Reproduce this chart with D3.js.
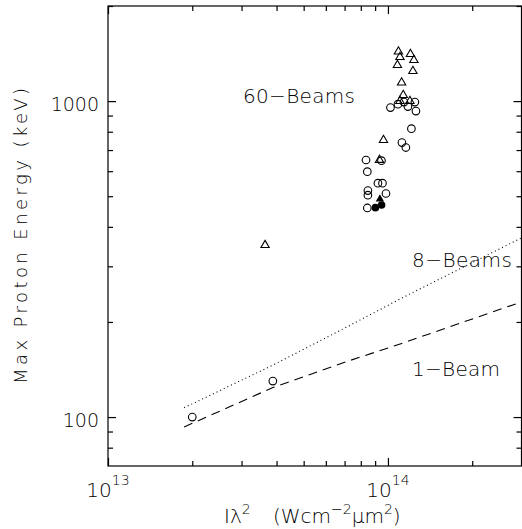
<!DOCTYPE html>
<html>
<head>
<meta charset="utf-8">
<script src="https://cdn.jsdelivr.net/npm/d3@7"></script>
<style>
body { margin: 0; background: #fff; }
text { font-family: "DejaVu Sans", sans-serif; font-weight: 200; fill: #000; }
</style>
</head>
<body>
<div id="chart"></div>
<script>
// intensity (W cm^-2 um^2) and max proton energy (keV)
var openTriangles = [
  [1.090e14, 1435], [1.104e14, 1378], [1.081e14, 1300], [1.203e14, 1409],
  [1.238e14, 1348], [1.228e14, 1244], [1.119e14, 1144], [1.134e14, 1045],
  [1.104e14, 1000], [1.198e14, 1000], [9.64e13, 753], [9.33e13, 651],
  [3.64e13, 350]
];
var openCircles = [
  [1.021e14, 954], [1.086e14, 978], [1.141e14, 993], [1.179e14, 961],
  [1.248e14, 993], [1.259e14, 930], [1.213e14, 818], [1.122e14, 739],
  [1.159e14, 713], [8.35e13, 651], [9.48e13, 648], [8.44e13, 598],
  [9.21e13, 550], [9.56e13, 550], [8.48e13, 521], [8.48e13, 504],
  [9.84e13, 510], [8.44e13, 459], [3.88e13, 130], [2.00e13, 100]
];
var filledCircles = [[9.02e13, 460], [9.49e13, 469]];
var filledTriangles = [[9.36e13, 490]];

var oneBeam = [[1.87e13, 93], [3.88e13, 124], [7.31e13, 151], [1.12e14, 171], [2.98e14, 231]];
var eightBeam = [[1.87e13, 107], [3.88e13, 146], [7.31e13, 195], [1.12e14, 238], [2.98e14, 368]];

var xMajor = [1e13, 1e14];
var xMinor = [2e13, 3e13, 4e13, 5e13, 6e13, 7e13, 8e13, 9e13, 2e14, 3e14];
var yMajor = [100, 1000];
var yMinor = [80, 90, 200, 300, 400, 500, 600, 700, 800, 900, 2000];

var width = 522, height = 529;
var plotL = 108, plotR = 521.5, plotT = 6, plotB = 466;

var x = d3.scaleLog().domain([1e13, 3e14]).range([plotL, plotR]);
var y = d3.scaleLog().domain([70, 2000]).range([plotB, plotT]);

var svg = d3.select("#chart").append("svg")
    .attr("width", width)
    .attr("height", height);

svg.append("rect")
    .attr("x", plotL).attr("y", plotT)
    .attr("width", plotR - plotL).attr("height", plotB - plotT)
    .attr("fill", "none").attr("stroke", "#000").attr("stroke-width", 1.2);

var noLabel = function (axis, vals, size) {
    return axis.tickValues(vals).tickSize(-size).tickSizeOuter(0).tickFormat("");
};

[[xMinor, 5], [xMajor, 8]].forEach(function (t) {
    svg.append("g").attr("transform", "translate(0," + plotB + ")").call(noLabel(d3.axisBottom(x), t[0], t[1]));
    svg.append("g").attr("transform", "translate(0," + plotT + ")").call(noLabel(d3.axisTop(x), t[0], t[1]));
});
[[yMinor, 5], [yMajor, 8]].forEach(function (t) {
    svg.append("g").attr("transform", "translate(" + plotL + ",0)").call(noLabel(d3.axisLeft(y), t[0], t[1]));
    svg.append("g").attr("transform", "translate(" + plotR + ",0)").call(noLabel(d3.axisRight(y), t[0], t[1]));
});
svg.selectAll(".domain").remove();
svg.selectAll(".tick line").attr("stroke", "#000").attr("stroke-width", 1.2);

// y tick labels
svg.append("g")
    .attr("transform", "translate(" + plotL + ",0)")
    .call(d3.axisLeft(y).tickValues(yMajor).tickSize(0).tickPadding(9).tickFormat(d3.format("d")))
    .call(function (g) {
        g.select(".domain").remove();
        g.selectAll("text")
            .attr("dy", "0.5em")
            .style("font-size", "19px")
            .style("font-family", '"DejaVu Sans", sans-serif')
            .attr("fill", "#000");
    });

// x tick labels 10^n
xMajor.forEach(function (v) {
    var t = svg.append("text")
        .attr("x", x(v))
        .attr("y", 497)
        .attr("text-anchor", "middle")
        .style("font-size", "20px");
    t.append("tspan").text("10");
    t.append("tspan").attr("dy", -12).style("font-size", "14px").text(Math.round(Math.log10(v)));
});

// axis titles
svg.append("text")
    .attr("transform", "translate(27,236) rotate(-90)")
    .attr("text-anchor", "middle")
    .attr("textLength", 296)
    .attr("lengthAdjust", "spacing")
    .style("font-size", "18px")
    .text("Max Proton Energy (keV)");

var xt = svg.append("text").attr("x", 224).attr("y", 523).style("font-size", "20px");
xt.append("tspan").text("I\u03bb");
xt.append("tspan").attr("dy", -9).style("font-size", "14px").text("2");
var xt2 = svg.append("text").attr("x", 273).attr("y", 523).style("font-size", "20px");
xt2.append("tspan").text("(Wcm");
xt2.append("tspan").attr("dy", -9).style("font-size", "14px").text("\u22122");
xt2.append("tspan").attr("dy", 9).text("\u03bcm");
xt2.append("tspan").attr("dy", -9).style("font-size", "14px").text("2");
xt2.append("tspan").attr("dy", 9).text(")");

// model curves
var line = d3.line()
    .x(function (d) { return x(d[0]); })
    .y(function (d) { return y(d[1]); });

svg.append("path").datum(oneBeam)
    .attr("d", line).attr("fill", "none").attr("stroke", "#000")
    .attr("stroke-width", 1.1).attr("stroke-dasharray", "9,6");
svg.append("path").datum(eightBeam)
    .attr("d", line).attr("fill", "none").attr("stroke", "#000")
    .attr("stroke-width", 1.1).attr("stroke-dasharray", "1,3");

// labels
var labels = [
    { t: "60\u2212Beams", x: 243, y: 103, w: 112 },
    { t: "8\u2212Beams", x: 412, y: 267, w: 100 },
    { t: "1\u2212Beam", x: 412, y: 376, w: 88 }
];
svg.selectAll(".lbl").data(labels).enter().append("text")
    .attr("class", "lbl")
    .attr("x", function (d) { return d.x; })
    .attr("y", function (d) { return d.y; })
    .attr("textLength", function (d) { return d.w; })
    .attr("lengthAdjust", "spacing")
    .style("font-size", "20px")
    .text(function (d) { return d.t; });

// data points
var tri = d3.symbol().type(d3.symbolTriangle).size(30);

svg.selectAll(".c").data(openCircles).enter().append("circle")
    .attr("class", "c")
    .attr("cx", function (d) { return x(d[0]); })
    .attr("cy", function (d) { return y(d[1]); })
    .attr("r", 3.8)
    .attr("fill", "none").attr("stroke", "#000").attr("stroke-width", 1.1);

svg.selectAll(".t").data(openTriangles).enter().append("path")
    .attr("class", "t")
    .attr("d", tri)
    .attr("transform", function (d) { return "translate(" + x(d[0]) + "," + y(d[1]) + ")"; })
    .attr("fill", "none").attr("stroke", "#000").attr("stroke-width", 1.1);

svg.selectAll(".fc").data(filledCircles).enter().append("circle")
    .attr("class", "fc")
    .attr("cx", function (d) { return x(d[0]); })
    .attr("cy", function (d) { return y(d[1]); })
    .attr("r", 3.8)
    .attr("fill", "#000");

svg.selectAll(".ft").data(filledTriangles).enter().append("path")
    .attr("class", "ft")
    .attr("d", tri)
    .attr("transform", function (d) { return "translate(" + x(d[0]) + "," + y(d[1]) + ")"; })
    .attr("fill", "#000");
</script>
</body>
</html>
